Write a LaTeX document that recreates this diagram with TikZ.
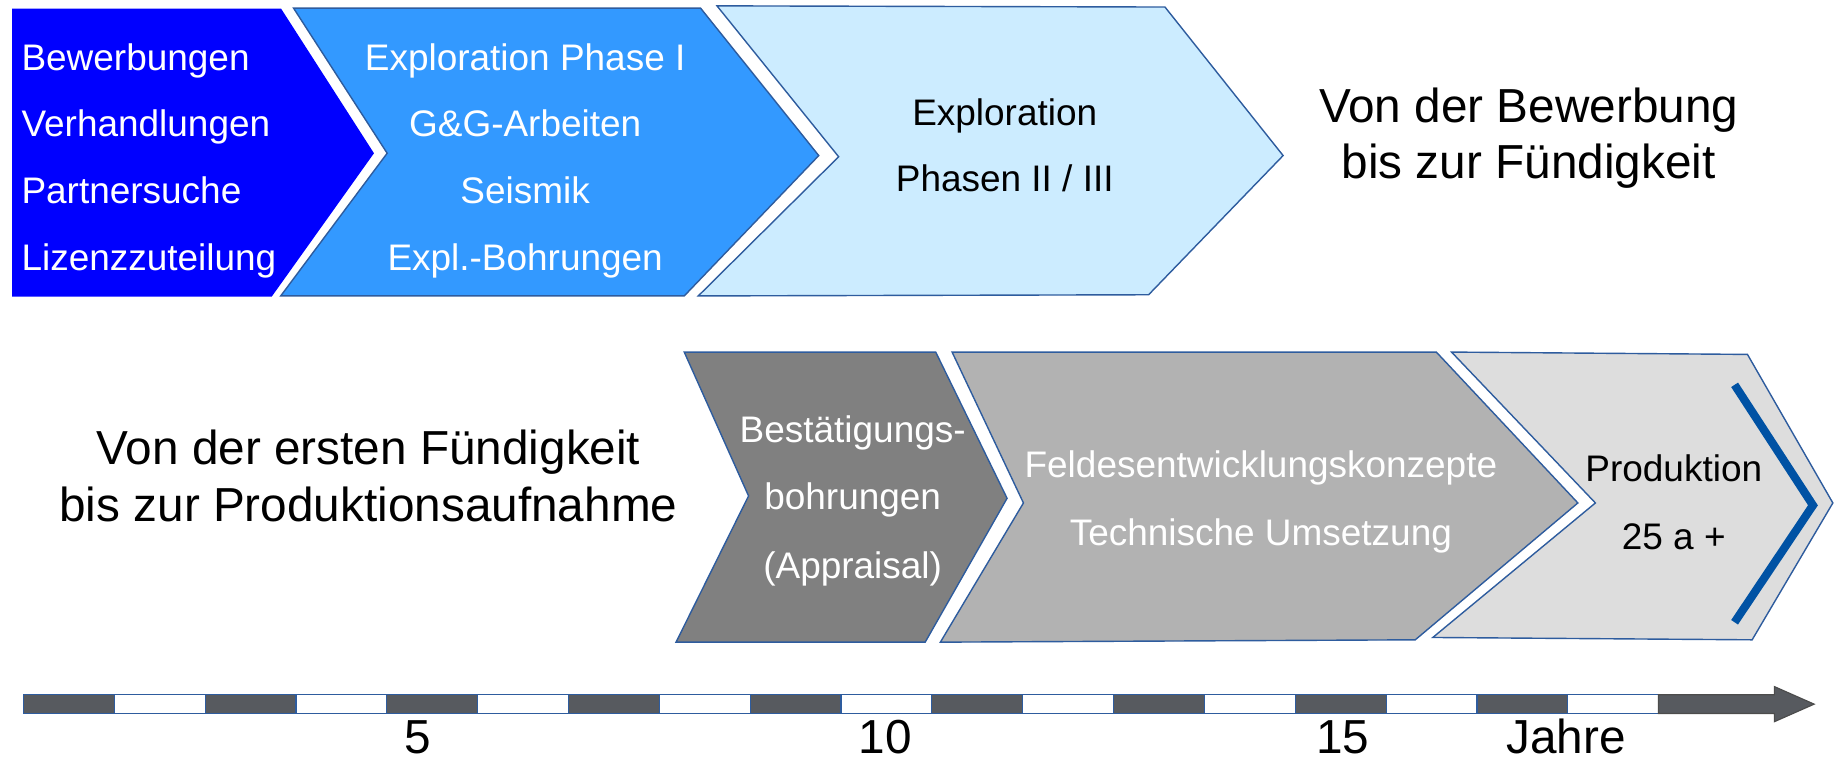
\documentclass[tikz,border=0pt]{standalone}
\usepackage{fontspec}
\setmainfont{Liberation Sans}
\definecolor{cA}{HTML}{0000FF}
\definecolor{cB}{HTML}{3399FF}
\definecolor{cC}{HTML}{CCECFF}
\definecolor{cD}{HTML}{808080}
\definecolor{cE}{HTML}{B2B2B2}
\definecolor{cF}{HTML}{DDDDDD}
\definecolor{bord}{HTML}{2E5C9E}
\definecolor{darkseg}{HTML}{575A5F}
\definecolor{prodline}{HTML}{0052A4}
\begin{document}
\begin{tikzpicture}[x=0.5pt,y=-0.5pt,
  chev/.style={draw=bord,line width=0.6pt,line join=miter},
  txt/.style={inner sep=0pt,anchor=base,font=\fontsize{15.8}{19}\selectfont},
  txtl/.style={txt,anchor=base west},
  big/.style={inner sep=0pt,anchor=base,font=\fontsize{20.4}{24}\selectfont},
  seg/.style={draw=bord,line width=0.5pt}]
\useasboundingbox (0,0) rectangle (1568,650);
% top row chevrons
\path[chev,fill=cA,draw=cA] (11,8) -- (240,8) -- (319,131) -- (232,253) -- (11,253) -- cycle;
\path[chev,fill=cB] (251,7) -- (599,7) -- (700,133) -- (585,253) -- (240,253) -- (331,131) -- cycle;
\path[chev,fill=cC] (613,5) -- (996,6) -- (1097,133) -- (982,252) -- (597,253) -- (717,134) -- cycle;
% bottom row chevrons
\path[chev,fill=cD] (585,301) -- (800,301) -- (861,426) -- (791,549) -- (578,549) -- (640,424) -- cycle;
\path[chev,fill=cE] (814,301) -- (1228,301) -- (1349,430) -- (1210,547) -- (804,549) -- (875,430) -- cycle;
\path[chev,fill=cF] (1241,301) -- (1494,303) -- (1567,430) -- (1498,547) -- (1225,545) -- (1364,430) -- cycle;
\draw[prodline,line width=3.5pt,line join=miter] (1483,329) -- (1550,432) -- (1483,532);
% texts chevron 1
\node[txtl,text=white] (t1a) at (18,60) {Bewerbungen};
\node[txtl,text=white] (t1b) at (18,117) {Verhandlungen};
\node[txtl,text=white] (t1c) at (18,174) {Partnersuche};
\node[txtl,text=white] (t1d) at (18,231) {Lizenzzuteilung};
% chevron 2
\node[txt,text=white] (t2a) at (449,60) {Exploration Phase I};
\node[txt,text=white] (t2b) at (449,117) {G\&G-Arbeiten};
\node[txt,text=white] (t2c) at (449,174) {Seismik};
\node[txt,text=white] (t2d) at (449,231) {Expl.-Bohrungen};
% chevron 3
\node[txt] (t3a) at (859,107) {Exploration};
\node[txt] (t3b) at (859,164) {Phasen II / III};
% top right
\node[big] (h1a) at (1307,105) {Von der Bewerbung};
\node[big] (h1b) at (1307,153) {bis zur Fündigkeit};
% bottom left
\node[big] (h2a) at (315,397) {Von der ersten Fündigkeit};
\node[big] (h2b) at (315,446) {bis zur Produktionsaufnahme};
% chevron 4
\node[txt,text=white] (t4a) at (729,378) {Bestätigungs-};
\node[txt,text=white] (t4b) at (729,436) {bohrungen};
\node[txt,text=white] (t4c) at (729,495) {(Appraisal)};
% chevron 5
\node[txt,text=white] (t5a) at (1078,408) {Feldesentwicklungskonzepte};
\node[txt,text=white] (t5b) at (1078,466) {Technische Umsetzung};
% chevron 6
\node[txt] (t6a) at (1431,412) {Produktion};
\node[txt] (t6b) at (1431,470) {25 a +};
% timeline
\foreach \i in {0,...,17}{
  \pgfmathsetmacro{\xa}{20+77.67*\i}
  \pgfmathsetmacro{\xb}{20+77.67*(\i+1)}
  \pgfmathtruncatemacro{\odd}{mod(\i,2)}
  \ifnum\odd=0
    \path[seg,fill=darkseg] (\xa,594) rectangle (\xb,610);
  \else
    \path[seg,fill=white] (\xa,594) rectangle (\xb,610);
  \fi
}
\path[fill=darkseg,draw=black!70,line width=0.5pt] (1418,594) -- (1517,594) -- (1517,587) -- (1551,602) -- (1517,617) -- (1517,610) -- (1418,610) -- cycle;
\node[big] (y5) at (357,644) {5};
\node[big] (y10) at (757,644) {10};
\node[big] (y15) at (1148,644) {15};
\node[big] (yj) at (1339,644) {Jahre};
\end{tikzpicture}
\end{document}
